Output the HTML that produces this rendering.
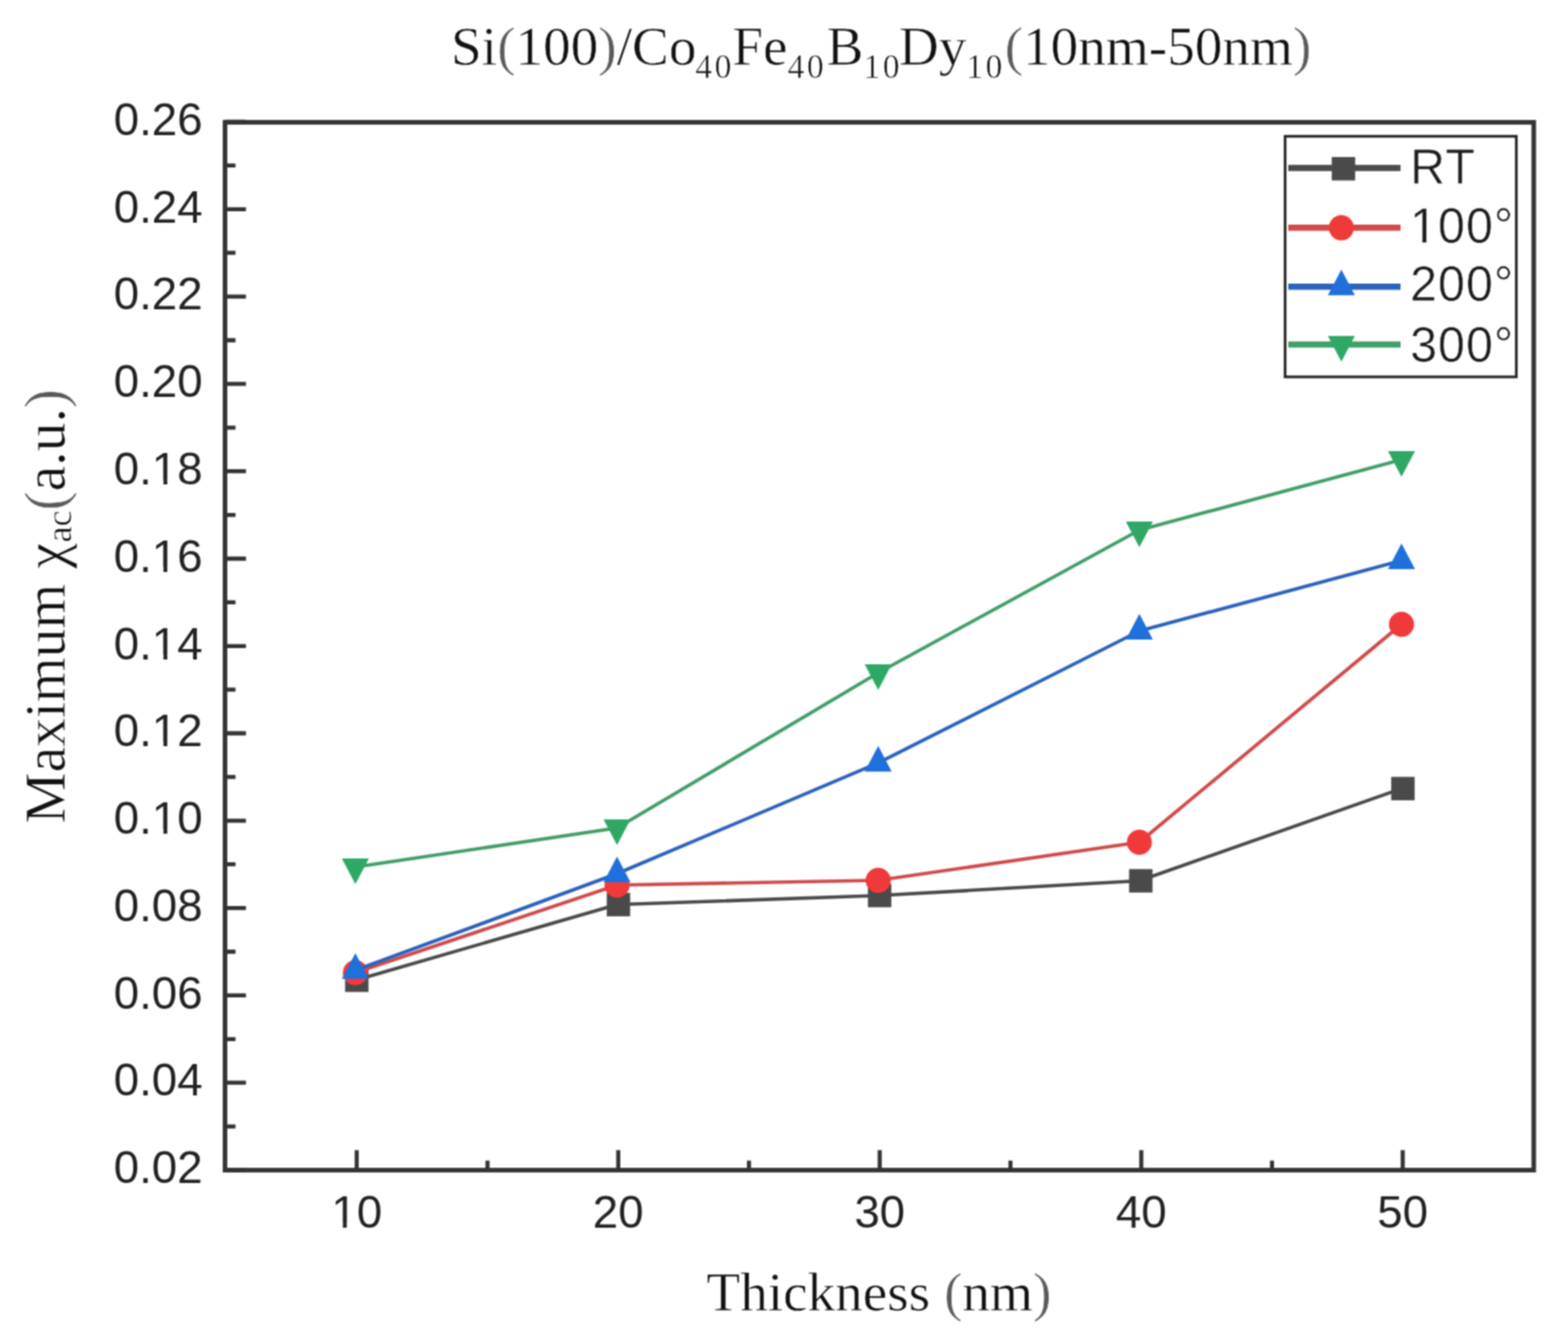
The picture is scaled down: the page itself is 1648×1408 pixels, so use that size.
<!DOCTYPE html>
<html><head><meta charset="utf-8"><title>Maximum chi_ac vs Thickness</title>
<style>
html,body{margin:0;padding:0;background:#fff;}
body{width:1648px;height:1408px;overflow:hidden;}
svg{display:block;}

.tl{font-family:"Liberation Sans",Arial,sans-serif;font-size:48px;fill:#222;}
.lg{font-family:"Liberation Sans",Arial,sans-serif;font-size:51px;fill:#1c1c1c;stroke:#fff;stroke-width:0.5px;}
.ti{font-family:"Liberation Serif","Times New Roman",serif;fill:#111;stroke:#fff;stroke-width:0.5px;}
</style></head>
<body>
<svg width="1648" height="1408" viewBox="0 0 1648 1408">
<defs><filter id="soft" x="0" y="0" width="1648" height="1408" filterUnits="userSpaceOnUse" color-interpolation-filters="sRGB"><feConvolveMatrix order="3" kernelMatrix="1 2 1 2 4 2 1 2 1" divisor="16" edgeMode="duplicate"/></filter></defs><g filter="url(#soft)">
<rect x="0" y="0" width="1648" height="1408" fill="#ffffff"/>
<path d="M236.5 1229.5H258.5 M236.5 1183.6H247.5 M236.5 1137.7H258.5 M236.5 1091.8H247.5 M236.5 1045.9H258.5 M236.5 1000.0H247.5 M236.5 954.1H258.5 M236.5 908.2H247.5 M236.5 862.3H258.5 M236.5 816.4H247.5 M236.5 770.5H258.5 M236.5 724.6H247.5 M236.5 678.8H258.5 M236.5 632.9H247.5 M236.5 587.0H258.5 M236.5 541.1H247.5 M236.5 495.2H258.5 M236.5 449.3H247.5 M236.5 403.4H258.5 M236.5 357.5H247.5 M236.5 311.6H258.5 M236.5 265.7H247.5 M236.5 219.8H258.5 M236.5 173.9H247.5 M236.5 128.0H258.5 M374.9 1229.5V1208.5 M512.4 1229.5V1219.5 M649.8 1229.5V1208.5 M787.2 1229.5V1219.5 M924.6 1229.5V1208.5 M1062.0 1229.5V1219.5 M1199.5 1229.5V1208.5 M1336.9 1229.5V1219.5 M1474.3 1229.5V1208.5" stroke="#333333" stroke-width="4.3" fill="none"/>
<rect x="236.5" y="128.5" width="1375.5" height="1101.0" fill="none" stroke="#333333" stroke-width="4.8"/>
<text x="213" y="1243.2" text-anchor="end" class="tl">0.02</text>
<text x="213" y="1151.4" text-anchor="end" class="tl">0.04</text>
<text x="213" y="1059.6" text-anchor="end" class="tl">0.06</text>
<text x="213" y="967.8" text-anchor="end" class="tl">0.08</text>
<text x="213" y="876.0" text-anchor="end" class="tl">0.10</text>
<rect x="161.48" y="871.45" width="10.29" height="5.59" fill="#fff"/><rect x="175.83" y="871.45" width="9.33" height="5.59" fill="#fff"/>
<text x="213" y="784.2" text-anchor="end" class="tl">0.12</text>
<rect x="161.48" y="779.66" width="10.29" height="5.59" fill="#fff"/><rect x="175.83" y="779.66" width="9.33" height="5.59" fill="#fff"/>
<text x="213" y="692.5" text-anchor="end" class="tl">0.14</text>
<rect x="161.48" y="687.86" width="10.29" height="5.59" fill="#fff"/><rect x="175.83" y="687.86" width="9.33" height="5.59" fill="#fff"/>
<text x="213" y="600.7" text-anchor="end" class="tl">0.16</text>
<rect x="161.48" y="596.07" width="10.29" height="5.59" fill="#fff"/><rect x="175.83" y="596.07" width="9.33" height="5.59" fill="#fff"/>
<text x="213" y="508.9" text-anchor="end" class="tl">0.18</text>
<rect x="161.48" y="504.28" width="10.29" height="5.59" fill="#fff"/><rect x="175.83" y="504.28" width="9.33" height="5.59" fill="#fff"/>
<text x="213" y="417.1" text-anchor="end" class="tl">0.20</text>
<text x="213" y="325.3" text-anchor="end" class="tl">0.22</text>
<text x="213" y="233.5" text-anchor="end" class="tl">0.24</text>
<text x="213" y="141.7" text-anchor="end" class="tl">0.26</text>
<text x="374.9" y="1290.1" text-anchor="middle" class="tl">10</text>
<rect x="350.10" y="1285.51" width="10.29" height="5.59" fill="#fff"/><rect x="364.45" y="1285.51" width="9.33" height="5.59" fill="#fff"/>
<text x="649.8" y="1290.1" text-anchor="middle" class="tl">20</text>
<text x="924.6" y="1290.1" text-anchor="middle" class="tl">30</text>
<text x="1199.5" y="1290.1" text-anchor="middle" class="tl">40</text>
<text x="1474.3" y="1290.1" text-anchor="middle" class="tl">50</text>
<polyline points="373.5,1030.0 648.5,950.5 923.0,941.0 1197.5,925.5 1473.0,828.6" fill="none" stroke="#4a4a4a" stroke-width="3.6" stroke-linejoin="round"/>
<rect x="362.7" y="1017.7" width="24.6" height="24.6" fill="#4a4a4a"/>
<rect x="637.7" y="938.2" width="24.6" height="24.6" fill="#4a4a4a"/>
<rect x="912.2" y="928.7" width="24.6" height="24.6" fill="#4a4a4a"/>
<rect x="1186.7" y="913.2" width="24.6" height="24.6" fill="#4a4a4a"/>
<rect x="1462.2" y="816.3" width="24.6" height="24.6" fill="#4a4a4a"/>
<polyline points="373.5,1022.0 648.5,930.0 923.0,925.0 1197.5,885.0 1473.0,656.0" fill="none" stroke="#d04a4a" stroke-width="3.6" stroke-linejoin="round"/>
<circle cx="373.5" cy="1022.0" r="13.2" fill="#f03a3a"/>
<circle cx="648.5" cy="930.0" r="13.2" fill="#f03a3a"/>
<circle cx="923.0" cy="925.0" r="13.2" fill="#f03a3a"/>
<circle cx="1197.5" cy="885.0" r="13.2" fill="#f03a3a"/>
<circle cx="1473.0" cy="656.0" r="13.2" fill="#f03a3a"/>
<polyline points="373.5,1019.5 648.5,918.0 923.0,801.7 1197.5,663.0 1473.0,589.0" fill="none" stroke="#2a62bc" stroke-width="3.6" stroke-linejoin="round"/>
<path d="M373.5 1001.5L387.7 1028.5L359.3 1028.5Z" fill="#1f6fdc"/>
<path d="M648.5 900.0L662.7 927.0L634.3 927.0Z" fill="#1f6fdc"/>
<path d="M923.0 783.7L937.2 810.7L908.8 810.7Z" fill="#1f6fdc"/>
<path d="M1197.5 645.0L1211.7 672.0L1183.3 672.0Z" fill="#1f6fdc"/>
<path d="M1473.0 571.0L1487.2 598.0L1458.8 598.0Z" fill="#1f6fdc"/>
<polyline points="373.5,911.0 648.5,870.0 923.0,707.0 1197.5,557.0 1473.0,483.0" fill="none" stroke="#429e68" stroke-width="3.6" stroke-linejoin="round"/>
<path d="M373.5 929.0L387.7 902.0L359.3 902.0Z" fill="#30a865"/>
<path d="M648.5 888.0L662.7 861.0L634.3 861.0Z" fill="#30a865"/>
<path d="M923.0 725.0L937.2 698.0L908.8 698.0Z" fill="#30a865"/>
<path d="M1197.5 575.0L1211.7 548.0L1183.3 548.0Z" fill="#30a865"/>
<path d="M1473.0 501.0L1487.2 474.0L1458.8 474.0Z" fill="#30a865"/>
<rect x="1350.7" y="143.2" width="243" height="252.8" fill="#ffffff" stroke="#222" stroke-width="2.8"/>
<path d="M1354 176.5H1472" stroke="#4a4a4a" stroke-width="6.5"/>
<rect x="1399.7" y="165.0" width="24.6" height="24.6" fill="#4a4a4a"/>
<text x="1482" y="193.3" class="lg" letter-spacing="1">RT</text>
<path d="M1354 239.3H1472" stroke="#d04a4a" stroke-width="6.5"/>
<circle cx="1409.8" cy="239.3" r="13.2" fill="#f03a3a"/>
<text x="1482" y="255.3" class="lg" letter-spacing="1">100°</text>
<rect x="1483.99" y="250.49" width="10.93" height="5.81" fill="#fff"/><rect x="1499.23" y="250.49" width="9.91" height="5.81" fill="#fff"/>
<path d="M1354 301.2H1472" stroke="#2a62bc" stroke-width="6.5"/>
<path d="M1409.8 283.2L1424.0 310.2L1395.6 310.2Z" fill="#1f6fdc"/>
<text x="1482" y="316.2" class="lg" letter-spacing="1">200°</text>
<path d="M1354 362H1472" stroke="#429e68" stroke-width="6.5"/>
<path d="M1409.8 380.0L1424.0 353.0L1395.6 353.0Z" fill="#30a865"/>
<text x="1482" y="380" class="lg" letter-spacing="1">300°</text>
<text x="474.1" y="68" class="ti" font-size="58">Si<tspan fill="#5a5a5a">(</tspan>100<tspan fill="#5a5a5a">)</tspan>/Co</text>
<text x="730.8" y="81.5" class="ti" font-size="35.5" letter-spacing="2.5" stroke="none">40</text>
<text x="769.8" y="68" class="ti" font-size="58">Fe</text>
<text x="827.8" y="81.5" class="ti" font-size="35.5" letter-spacing="2.5" stroke="none">40</text>
<text x="868.8" y="68" class="ti" font-size="58">B</text>
<text x="907.4" y="81.5" class="ti" font-size="35.5" letter-spacing="2.5" stroke="none">10</text>
<text x="944.8" y="68" class="ti" font-size="58">Dy</text>
<text x="1015.4" y="81.5" class="ti" font-size="35.5" letter-spacing="2.5" stroke="none">10</text>
<text x="1056.0" y="68" class="ti" font-size="58"><tspan fill="#5a5a5a">(</tspan>10nm-50nm<tspan fill="#5a5a5a">)</tspan></text>
<text x="742.5" y="1377" class="ti" font-size="58">Thickness <tspan fill="#5a5a5a">(</tspan>nm<tspan fill="#5a5a5a">)</tspan></text>
<g transform="translate(68 865.4) rotate(-90)"><text x="0" y="0" class="ti" font-size="60.5">Maximum</text><text x="267.8" y="0" class="ti" font-size="60.5">χ</text><text x="295.3" y="6.5" class="ti" font-size="38" stroke="none">ac</text><text x="329" y="0" class="ti" font-size="60.5"><tspan fill="#5a5a5a">(</tspan>a.u.<tspan fill="#5a5a5a">)</tspan></text></g>
</g>
</svg>
</body></html>
